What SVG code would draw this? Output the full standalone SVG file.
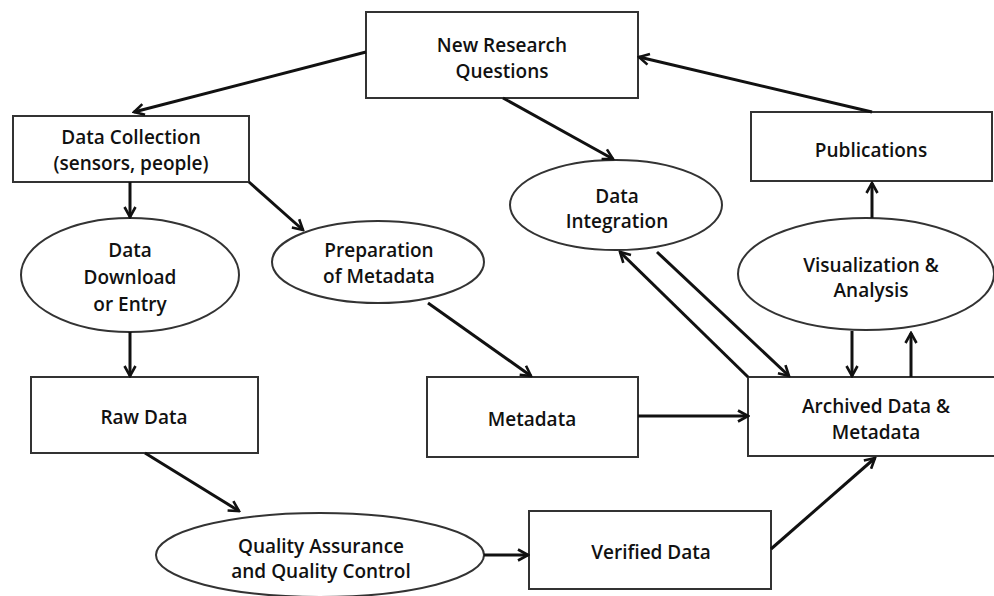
<svg xmlns="http://www.w3.org/2000/svg" width="994" height="596" viewBox="0 0 994 596">
<defs>
<marker id="ah" viewBox="0 0 14 14" refX="12" refY="7" markerWidth="14" markerHeight="14" markerUnits="userSpaceOnUse" orient="auto">
<path d="M2,1.5 L12,7 L2,12.5" fill="none" stroke="#111" stroke-width="2.6" stroke-linejoin="miter"/>
</marker>
</defs>
<style>
.n rect, .n ellipse { fill: #fff; stroke: #333; stroke-width: 2; }
.n text { font-family: "Open Sans", "DejaVu Sans", sans-serif; font-weight: 600; font-size: 19px; fill: #111; text-anchor: middle; }
.c line { stroke: #111; stroke-width: 3; marker-end: url(#ah); }
</style>
<rect width="994" height="596" fill="#fff"/>
<g id="nodes">
<g id="new-research" class="n"><rect x="366" y="12" width="272" height="86"/><text x="502" y="52">New Research</text><text x="502" y="78">Questions</text></g>
<g id="data-collection" class="n"><rect x="13" y="116" width="236" height="66"/><text x="131" y="144">Data Collection</text><text x="131" y="170">(sensors, people)</text></g>
<g id="data-download" class="n"><ellipse cx="130" cy="275" rx="109" ry="57"/><text x="130" y="257">Data</text><text x="130" y="284">Download</text><text x="130" y="311">or Entry</text></g>
<g id="prep-metadata" class="n"><ellipse cx="378" cy="262" rx="106" ry="41"/><text x="379" y="257">Preparation</text><text x="379" y="283">of Metadata</text></g>
<g id="raw-data" class="n"><rect x="31" y="377" width="227" height="76"/><text x="144" y="424">Raw Data</text></g>
<g id="metadata" class="n"><rect x="427" y="377" width="211" height="80"/><text x="532" y="426">Metadata</text></g>
<g id="qa-qc" class="n"><ellipse cx="320" cy="555" rx="164" ry="42"/><text x="321" y="553">Quality Assurance</text><text x="321" y="578">and Quality Control</text></g>
<g id="verified-data" class="n"><rect x="529" y="511" width="242" height="78"/><text x="651" y="559">Verified Data</text></g>
<g id="archived" class="n"><rect x="748" y="377" width="250" height="79"/><text x="876" y="413">Archived Data &amp;</text><text x="876" y="439">Metadata</text></g>
<g id="publications" class="n"><rect x="751" y="112" width="241" height="69"/><text x="871" y="157">Publications</text></g>
<g id="data-integration" class="n"><ellipse cx="616" cy="205" rx="106" ry="45"/><text x="617" y="203">Data</text><text x="617" y="228">Integration</text></g>
<g id="visualization" class="n"><ellipse cx="866" cy="274" rx="128" ry="56"/><text x="871" y="272">Visualization &amp;</text><text x="871" y="297">Analysis</text></g>
</g>
<g id="connectors" class="c">
<line x1="366" y1="52" x2="134" y2="112"/>
<line x1="130" y1="182" x2="130" y2="217"/>
<line x1="249" y1="182" x2="303" y2="230"/>
<line x1="130" y1="332" x2="130" y2="376"/>
<line x1="145" y1="453" x2="239" y2="511"/>
<line x1="484" y1="555" x2="528" y2="555"/>
<line x1="771" y1="549" x2="875" y2="458"/>
<line x1="428" y1="303" x2="531" y2="376"/>
<line x1="638" y1="416" x2="748" y2="416"/>
<line x1="872" y1="112" x2="639" y2="57"/>
<line x1="503" y1="98" x2="613" y2="159"/>
<line x1="872" y1="218" x2="872" y2="183"/>
<line x1="748" y1="377" x2="620" y2="252"/>
<line x1="657" y1="252" x2="789" y2="376"/>
<line x1="852" y1="331" x2="852" y2="376"/>
<line x1="911" y1="377" x2="911" y2="333"/>
</g>
</svg>
